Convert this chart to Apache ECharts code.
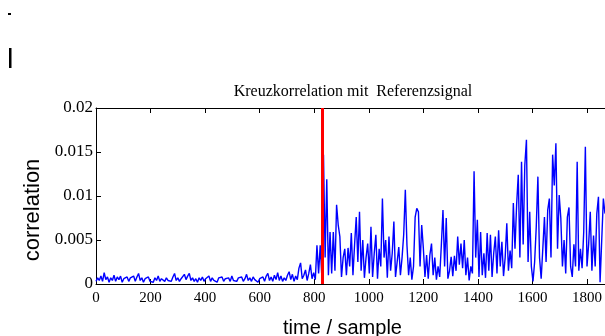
<!DOCTYPE html>
<html>
<head>
<meta charset="utf-8">
<script src="https://cdn.jsdelivr.net/npm/echarts@6/dist/echarts.min.js"></script>
<style>
  html, body { margin: 0; padding: 0; background: #fff; }
  #chart { width: 605px; height: 336px; }
</style>
</head>
<body>
<div id="chart"></div>
<script>
// signal, one value every SAMPLE_STEP samples, in units of 1e-3
const SAMPLE_STEP = 6
const quietCorr = [
  0.3, 0.7, 0.4, 0.9, 0.3, 1.3, 0.5, 0.8, 0.2, 0.7,
  0.4, 1.0, 0.3, 0.8, 0.5, 0.9, 0.2, 0.6, 0.4, 0.8,
  0.3, 0.7, 0.5, 0.9, 0.3, 0.8, 1.2, 0.4, 0.7, 0.2,
  0.6, 0.4, 0.8, 0.3, 0.5, 0.2, 0.7, 0.4, 0.9, 0.3,
  0.6, 0.8, 0.3, 0.7, 0.4, 0.6, 0.3, 0.8, 1.2, 0.4,
  0.7, 0.3, 0.6, 0.4, 1.1, 0.5, 0.9, 1.2, 0.4, 0.7,
  0.3, 0.6, 0.2, 0.7, 0.4, 0.8, 0.3, 0.6, 0.5, 0.9,
  0.3, 0.7, 0.4, 0.6, 0.2, 0.7, 0.5, 0.8, 0.3, 0.6,
  0.4, 0.7, 0.3, 0.9, 0.4, 0.6, 0.3, 0.7, 0.5, 0.8,
  0.3, 0.6, 1.1, 0.4, 0.7, 0.3, 0.8, 0.5, 0.7, 0.2,
  0.6, 0.4, 0.8, 0.3, 0.9, 1.2, 0.4, 0.8, 0.3, 1.0,
  0.5, 1.3, 0.4, 0.9, 0.3, 0.7, 0.4, 1.0, 1.4, 0.5,
  1.1, 0.3, 0.9, 0.5, 1.8, 2.4, 0.6, 1.0, 1.6, 0.4,
  1.2, 2.2, 0.6, 1.3
]
const activeCorr = [
  0.5, 4.4, 1.2, 4.4, 0.8, 14.7, 3.0, 11.9, 1.0, 5.9,
  1.2, 5.9, 1.5, 9.0, 6.7, 5.4, 0.8, 3.0, 4.0, 1.0,
  4.1, 2.0, 5.8, 1.0, 4.5, 7.6, 2.5, 8.2, 1.5, 5.0,
  0.7, 3.0, 4.6, 1.2, 6.5, 0.8, 3.5, 5.6, 0.6, 4.0,
  2.0, 9.7, 3.0, 5.0, 0.7, 5.4, 1.5, 3.5, 7.1, 0.8,
  2.5, 4.2, 1.0, 3.0, 5.6, 10.7, 4.4, 1.0, 3.0, 0.5,
  2.0, 7.6, 8.6, 8.2, 2.0, 6.7, 4.1, 0.8, 3.3, 0.6,
  3.3, 4.6, 1.0, 3.0, 0.5, 2.0, 0.8, 4.4, 8.4, 2.0,
  7.5, 0.6, 1.5, 3.1, 0.9, 3.2, 1.5, 5.4, 2.2, 4.6,
  1.8, 5.0, 1.0, 3.0, 0.4, 2.0, 1.2, 12.8, 3.0, 7.3,
  0.8, 5.9, 1.0, 3.5, 0.7, 5.8, 1.5, 5.6, 0.8, 3.5,
  5.4, 1.2, 6.1, 2.0, 4.8, 0.9, 3.0, 6.9, 1.5, 3.8,
  1.8, 9.2, 4.0, 9.0, 12.4, 3.0, 13.9, 4.5, 13.5, 16.4,
  2.5, 8.2, 2.0, 0.3, 2.5, 6.5, 12.2, 3.0, 0.6, 4.0,
  7.6, 2.5, 8.4, 9.7, 3.0, 14.7, 11.2, 16.0, 4.0, 10.1,
  7.5, 2.0, 5.0, 1.2, 7.6, 8.7, 2.0, 0.8, 4.5, 2.0,
  13.9, 1.5, 4.0, 1.8, 5.9, 15.6, 2.0, 4.5, 8.2, 1.5,
  5.5, 2.0, 8.0, 9.9, 0.2, 5.0, 9.7, 8.0
]
const markerSample = 829
const xTicks = [0, 200, 400, 600, 800, 1000, 1200, 1400, 1600, 1800]
const yTicks = [0, 0.005, 0.01, 0.015, 0.02]

const corr = quietCorr.concat(activeCorr)
const seriesData = corr.map((v, i) => [i * SAMPLE_STEP, v / 1000])

const serif = 'Liberation Serif, Times New Roman, serif'
const sans = 'Liberation Sans, Arial, sans-serif'

const chart = echarts.init(document.getElementById('chart'), null, { renderer: 'canvas' })

const xBase = {
  type: 'value',
  min: xTicks[0],
  max: 1866,
  interval: xTicks[1] - xTicks[0],
  splitLine: { show: false },
  axisLine: { show: true, onZero: false, lineStyle: { color: '#000', width: 1 } },
  axisTick: { show: true, inside: true, length: 5, lineStyle: { color: '#000' } }
}

chart.setOption({
  animation: false,
  backgroundColor: '#fff',
  title: {
    text: 'Kreuzkorrelation mit  Referenzsignal',
    left: 353,
    textAlign: 'center',
    top: 84,
    padding: 0,
    textStyle: { fontFamily: serif, fontSize: 16, fontWeight: 'normal', color: '#000' }
  },
  grid: { left: 96, top: 108, right: 0, bottom: 52, containLabel: false, outerBoundsMode: 'none' },
  xAxis: [
    Object.assign({}, xBase, {
      position: 'bottom',
      name: 'time / sample',
      nameLocation: 'middle',
      nameGap: 34,
      nameTextStyle: { fontFamily: sans, fontSize: 20, color: '#000', padding: [0, 16, 0, 0] },
      axisLabel: {
        margin: 7,
        fontFamily: serif,
        fontSize: 15,
        color: '#000',
        showMaxLabel: false,
        formatter: v => (xTicks.indexOf(v) >= 0 ? String(v) : '')
      }
    }),
    Object.assign({}, xBase, {
      position: 'top',
      axisLabel: { show: false }
    })
  ],
  yAxis: {
    type: 'value',
    min: yTicks[0],
    max: yTicks[yTicks.length - 1],
    interval: yTicks[1] - yTicks[0],
    name: 'correlation',
    nameLocation: 'middle',
    nameGap: 47,
    nameTextStyle: { fontFamily: sans, fontSize: 22, color: '#000', padding: [0, 28, 0, 0] },
    splitLine: { show: false },
    axisLine: { show: true, lineStyle: { color: '#000', width: 1 } },
    axisTick: { show: true, inside: true, length: 5, lineStyle: { color: '#000' } },
    axisLabel: {
      margin: 3,
      fontFamily: serif,
      fontSize: 17,
      color: '#000',
      formatter: v => String(+v.toFixed(3))
    }
  },
  series: [
    {
      type: 'line',
      data: seriesData,
      showSymbol: false,
      symbol: 'none',
      lineStyle: { color: '#0000ff', width: 1.4 },
      markLine: {
        silent: true,
        symbol: 'none',
        label: { show: false },
        lineStyle: { color: '#ff0000', width: 3, type: 'solid' },
        data: [{ xAxis: markerSample }]
      }
    }
  ],
  graphic: [
    { type: 'rect', left: 8, top: 13, shape: { width: 3, height: 2 }, style: { fill: '#000' } },
    { type: 'rect', left: 9, top: 48, shape: { width: 2.5, height: 20 }, style: { fill: '#000' } }
  ]
})

window.addEventListener('resize', () => chart.resize())
</script>
</body>
</html>
